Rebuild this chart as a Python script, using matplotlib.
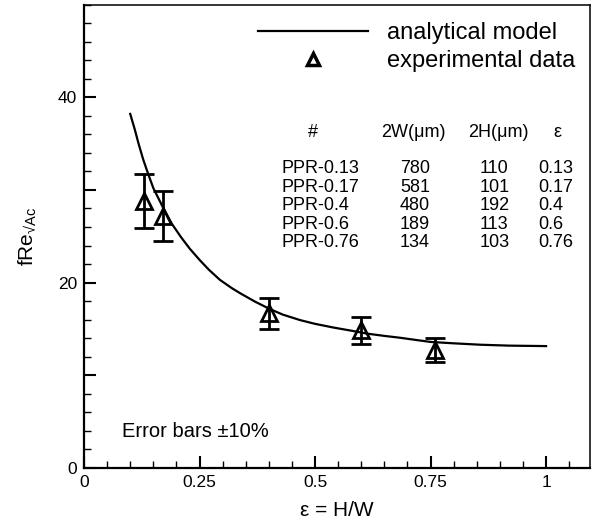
import matplotlib
matplotlib.use('Agg')
import matplotlib.pyplot as plt
from matplotlib.lines import Line2D
from matplotlib.ticker import MultipleLocator, FixedLocator
import numpy as np

plt.rcParams['font.family'] = ['Liberation Sans', 'DejaVu Sans']
plt.rcParams['mathtext.fontset'] = 'custom'
plt.rcParams['mathtext.rm'] = 'Liberation Sans'
plt.rcParams['mathtext.it'] = 'Liberation Sans:italic'

# analytical model curve
eps_model = [0.10, 0.11, 0.118, 0.128, 0.139, 0.15, 0.163, 0.176, 0.19, 0.21,
             0.229, 0.251, 0.27, 0.294, 0.32, 0.338, 0.37, 0.40, 0.43, 0.468,
             0.50, 0.54, 0.58, 0.612, 0.65, 0.684, 0.72, 0.75, 0.80, 0.857,
             0.92, 1.0]
fre_model = [38.2, 36.5, 35.0, 33.3, 31.7, 30.2, 28.9, 27.6, 26.35, 24.9,
             23.65, 22.4, 21.4, 20.3, 19.4, 18.85, 17.95, 17.2, 16.55, 15.95,
             15.55, 15.15, 14.8, 14.5, 14.25, 14.05, 13.8, 13.6, 13.45, 13.3,
             13.2, 13.15]

# experimental data
eps_exp = [0.13, 0.17, 0.40, 0.60, 0.76]
fre_exp = [28.8, 27.2, 16.7, 14.85, 12.75]
err_frac = 0.10

# table of samples
samples = ['PPR-0.13', 'PPR-0.17', 'PPR-0.4', 'PPR-0.6', 'PPR-0.76']
width_2w = ['780', '581', '480', '189', '134']
height_2h = ['110', '101', '192', '113', '103']
eps_tab = ['0.13', '0.17', '0.4', '0.6', '0.76']

fig = plt.figure(figsize=(5.92, 5.27), dpi=100)
ax = fig.add_axes([84 / 592, 59 / 527, 506 / 592, 463.5 / 527])

line, = ax.plot(eps_model, fre_model, color='k', lw=1.6, label='analytical model',
                solid_joinstyle='round')
yerr = err_frac * np.array(fre_exp)
ax.errorbar(eps_exp, fre_exp, yerr=yerr, fmt='^', color='k', mfc='none', mec='k',
            ms=11, mew=2.0, elinewidth=2.0, capsize=7, capthick=2.0)

ax.set_xlim(0, 1.095)
ax.set_ylim(0, 50)
ax.xaxis.set_major_locator(FixedLocator([0, 0.25, 0.5, 0.75, 1.0]))
ax.set_xticklabels(['0', '0.25', '0.5', '0.75', '1'])
ax.xaxis.set_minor_locator(MultipleLocator(0.05))
ax.yaxis.set_major_locator(FixedLocator([0, 10, 20, 30, 40]))
ax.set_yticklabels(['0', '', '20', '', '40'])
ax.yaxis.set_minor_locator(MultipleLocator(2))
ax.tick_params(which='both', direction='in', top=False, right=False, labelsize=12.5)
ax.tick_params(which='major', length=8.5, width=1.5, pad=5)
ax.tick_params(which='minor', length=5, width=1.0)
for s in ['left', 'bottom']:
    ax.spines[s].set_linewidth(1.6)
for s in ['top', 'right']:
    ax.spines[s].set_linewidth(1.1)

ax.set_xlabel('ε = H/W', fontsize=15, labelpad=8)
ax.set_ylabel('fRe$_{\\mathregular{√Ac}}$', fontsize=15, labelpad=14)

proxy = Line2D([], [], ls='none', marker='^', mfc='none', mec='k', ms=8, mew=2.5)
ax.legend([line, proxy], ['analytical model', 'experimental data'],
          loc='upper left', bbox_to_anchor=(0.344, 0.962), frameon=False,
          fontsize=17, handlelength=4.66, handletextpad=0.8, borderpad=0,
          borderaxespad=0, labelspacing=0.25, numpoints=1)

# sample table
fs = 13
ax.text(0.496, 36.2, '#', ha='center', va='center', fontsize=fs)
ax.text(0.713, 36.2, '2W(μm)', ha='center', va='center', fontsize=fs)
ax.text(0.897, 36.2, '2H(μm)', ha='center', va='center', fontsize=fs)
ax.text(1.024, 36.2, 'ε', ha='center', va='center', fontsize=fs)
for i in range(len(samples)):
    yy = 32.3 - 2.0 * i
    ax.text(0.428, yy, samples[i], ha='left', va='center', fontsize=fs)
    ax.text(0.716, yy, width_2w[i], ha='center', va='center', fontsize=fs)
    ax.text(0.888, yy, height_2h[i], ha='center', va='center', fontsize=fs)
    ax.text(0.983, yy, eps_tab[i], ha='left', va='center', fontsize=fs)

ax.text(0.0815, 3.9, 'Error bars ±10%', ha='left', va='center', fontsize=14.5)

fig.savefig('out.png', dpi=100)
